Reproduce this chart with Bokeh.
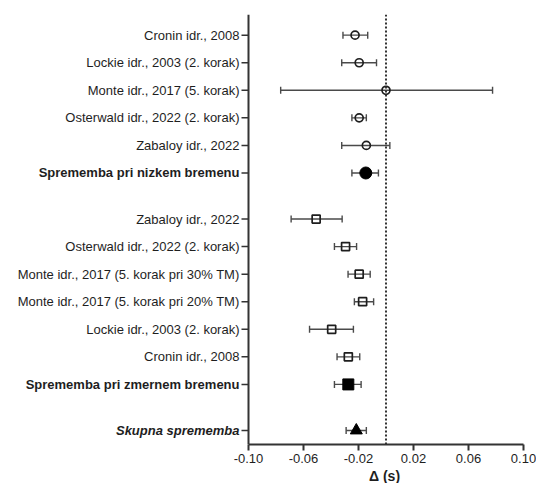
from bokeh.plotting import figure
from bokeh.models import (ColumnDataSource, Range1d, FixedTicker, Span, Whisker,
                          TeeHead, Title)
from bokeh.core.properties import value
from bokeh.embed import file_html
from bokeh.resources import INLINE

# ---------------- data ----------------
low_labels = ["Cronin idr., 2008", "Lockie idr., 2003 (2. korak)",
              "Monte idr., 2017 (5. korak)", "Osterwald idr., 2022 (2. korak)",
              "Zabaloy idr., 2022"]
low_mean = [-0.0225, -0.0195, 0.0, -0.0195, -0.0143]
low_lower = [-0.0313, -0.0322, -0.0766, -0.0248, -0.0322]
low_upper = [-0.0133, -0.0069, 0.0775, -0.0143, 0.0028]

low_sum_label = "Sprememba pri nizkem bremenu"
low_sum = [-0.0147, -0.0248, -0.0055]  # mean, lower, upper

mod_labels = ["Zabaloy idr., 2022", "Osterwald idr., 2022 (2. korak)",
              "Monte idr., 2017 (5. korak pri 30% TM)",
              "Monte idr., 2017 (5. korak pri 20% TM)",
              "Lockie idr., 2003 (2. korak)", "Cronin idr., 2008"]
mod_mean = [-0.0508, -0.0294, -0.0195, -0.0170, -0.0395, -0.0274]
mod_lower = [-0.0690, -0.0375, -0.0276, -0.0230, -0.0556, -0.0356]
mod_upper = [-0.0319, -0.0214, -0.0115, -0.0090, -0.0237, -0.0191]

mod_sum_label = "Sprememba pri zmernem bremenu"
mod_sum = [-0.0274, -0.0375, -0.0181]

total_label = "Skupna sprememba"
total_sum = [-0.0216, -0.0290, -0.0143]

x_ticks = [-0.10, -0.06, -0.02, 0.02, 0.06, 0.10]
x_tick_labels = ["-0.10", "-0.06", "-0.02", "0.02", "0.06", "0.10"]
x_label = "Δ (s)"
X_MIN, X_MAX = -0.10, 0.10

# ---------------- layout ----------------
GAP = 1.67
y_low = [float(i) for i in range(len(low_labels))]
y_low_sum = y_low[-1] + 1
y_mod = [y_low_sum + GAP + i for i in range(len(mod_labels))]
y_mod_sum = y_mod[-1] + 1
y_total = y_mod_sum + GAP

W, H = 536, 483
LABEL_PX = 248          # space for category labels, left of the y spine
RIGHT_PX = 13
PLOT_PX = W - LABEL_PX - RIGHT_PX
DX = (X_MAX - X_MIN) / PLOT_PX   # data units per pixel

FONT = "Liberation Sans"
INK = "#1e1e1e"
AX = "#333333"
BAR = "#4a4a4a"

p = figure(width=W, height=H, output_backend="svg", toolbar_location=None,
           x_range=Range1d(X_MIN - LABEL_PX * DX, X_MAX),
           y_range=Range1d(14.85, -0.75),
           min_border_left=0, min_border_right=RIGHT_PX, min_border_top=14,
           min_border_bottom=39)
p.outline_line_color = None
p.xgrid.visible = False
p.ygrid.visible = False
p.yaxis.visible = False
p.background_fill_color = "white"
p.border_fill_color = "white"

# zero line
p.add_layout(Span(location=0, dimension="height", line_color=AX,
                  line_width=2, line_dash="2 2"))
# y spine
p.add_layout(Span(location=X_MIN, dimension="height", line_color=AX,
                  line_width=2))

all_y = y_low + [y_low_sum] + y_mod + [y_mod_sum, y_total]
# y ticks
p.segment(x0=[X_MIN] * len(all_y), x1=[X_MIN - 7 * DX] * len(all_y),
          y0=all_y, y1=all_y, line_color=AX, line_width=1.5)

def whiskers(ys, lo, hi):
    src = ColumnDataSource(dict(y=ys, lo=lo, hi=hi))
    w = Whisker(source=src, base="y", lower="lo", upper="hi", dimension="width",
                line_color=BAR, line_width=1.4, level="underlay",
                upper_head=TeeHead(size=7, line_color=BAR, line_width=1.4),
                lower_head=TeeHead(size=7, line_color=BAR, line_width=1.4))
    p.add_layout(w)

whiskers(y_low, low_lower, low_upper)
whiskers([y_low_sum], [low_sum[1]], [low_sum[2]])
whiskers(y_mod, mod_lower, mod_upper)
whiskers([y_mod_sum], [mod_sum[1]], [mod_sum[2]])
whiskers([y_total], [total_sum[1]], [total_sum[2]])

p.scatter(low_mean, y_low, marker="circle", size=8, fill_alpha=0,
          line_color=INK, line_width=1.7)
p.scatter([low_sum[0]], [y_low_sum], marker="circle", size=12,
          fill_color="black", line_color="black")
p.scatter(mod_mean, y_mod, marker="square", size=8, fill_alpha=0,
          line_color=INK, line_width=1.7)
p.scatter([mod_sum[0]], [y_mod_sum], marker="square", size=11,
          fill_color="black", line_color="black")
p.scatter([total_sum[0]], [y_total], marker="triangle", size=12,
          fill_color="black", line_color="black")

# category labels
def labels(texts, ys, style):
    p.text(x=[X_MIN - 9 * DX] * len(ys), y=ys, text=texts,
           text_align="right", text_baseline="middle",
           text_font=value(FONT), text_font_size=value("13px"),
           text_color=INK, text_font_style=value(style))

labels(low_labels + mod_labels, y_low + y_mod, "normal")
labels([low_sum_label, mod_sum_label], [y_low_sum, y_mod_sum], "bold")
labels([total_label], [y_total], "bold italic")

# x axis
xa = p.xaxis[0]
xa.bounds = (X_MIN, X_MAX)
xa.ticker = FixedTicker(ticks=x_ticks)
xa.major_label_overrides = dict(zip(x_ticks, x_tick_labels))
xa.minor_tick_line_color = None
xa.major_tick_out = 6
xa.major_tick_in = 0
xa.axis_line_width = 2
xa.axis_line_color = AX
xa.major_tick_line_width = 2
xa.major_tick_line_color = AX
xa.major_label_text_font = FONT
xa.major_label_text_font_size = "13px"
xa.major_label_text_color = INK
xa.major_label_standoff = 3

# x axis title, centred under the data axis
zero_px = LABEL_PX + PLOT_PX * (0 - (X_MIN)) / (X_MAX - X_MIN)
p.add_layout(Title(text=x_label, align="left", offset=zero_px - 17,
                   text_font=FONT, text_font_size="14px",
                   text_font_style="bold", text_color=INK, standoff=0),
             "below")

open("out.html", "w").write(file_html(p, INLINE))
